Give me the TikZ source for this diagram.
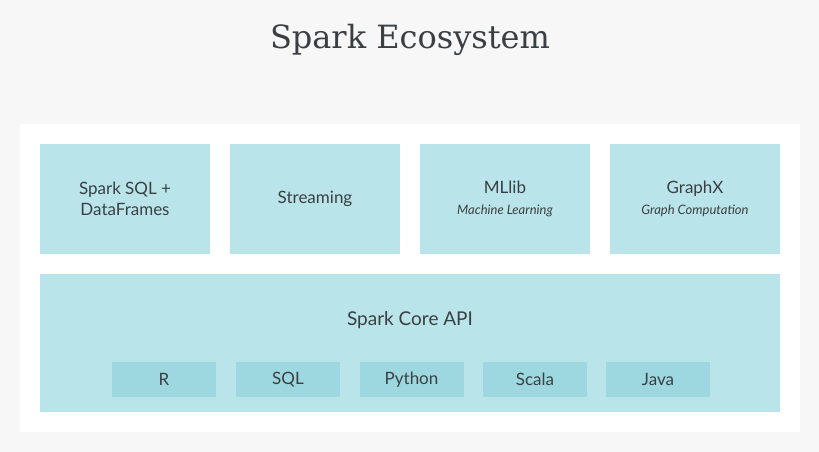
\documentclass[tikz,border=0pt]{standalone}
\usepackage{fontspec}
\setmainfont{Lato}
\newfontfamily\titlefont{DejaVu Serif}
\definecolor{bgGray}{HTML}{F7F7F7}
\definecolor{boxCyan}{HTML}{B9E5EA}
\definecolor{langCyan}{HTML}{9DD8E0}
\definecolor{txtGray}{HTML}{3A3F44}
\newcommand\subtxt[1]{{\fontsize{13}{16}\selectfont\itshape #1}}
\tikzset{
  module/.style={fill=boxCyan,minimum width=170pt,minimum height=110pt,align=center,inner sep=0pt,text=txtGray,font=\fontsize{17}{21}\selectfont},
  lang/.style={fill=langCyan,minimum width=104pt,minimum height=35pt,inner sep=0pt,text=txtGray,font=\fontsize{17}{21}\selectfont}
}
\begin{document}
\begin{tikzpicture}[x=1pt,y=-1pt]
\fill[bgGray] (0,0) rectangle (819,452);
\useasboundingbox (0,0) rectangle (819,452);
\fill[white] (20,124) rectangle (800,432);
\node[text=txtGray,font=\titlefont\fontsize{32}{38}\selectfont] (title) at (410,40) {Spark Ecosystem};
% top row
\node[module] (sql) at (125,199) {Spark SQL +\\DataFrames};
\node[module] (stream) at (315,199) {Streaming};
\node[module] (mllib) at (505,199) {MLlib\\\subtxt{Machine Learning}};
\node[module] (graphx) at (695,199) {GraphX\\\subtxt{Graph Computation}};
% core
\node[module,minimum width=740pt,minimum height=138pt] (core) at (410,343) {};
\node[text=txtGray,font=\fontsize{19}{23}\selectfont] (coreapi) at (410,320) {Spark Core API};
\foreach \name/\x in {R/164,SQL/288,Python/411.5,Scala/535,Java/658}
  \node[lang] (l\name) at (\x,379.5) {\name};
\end{tikzpicture}
\end{document}
